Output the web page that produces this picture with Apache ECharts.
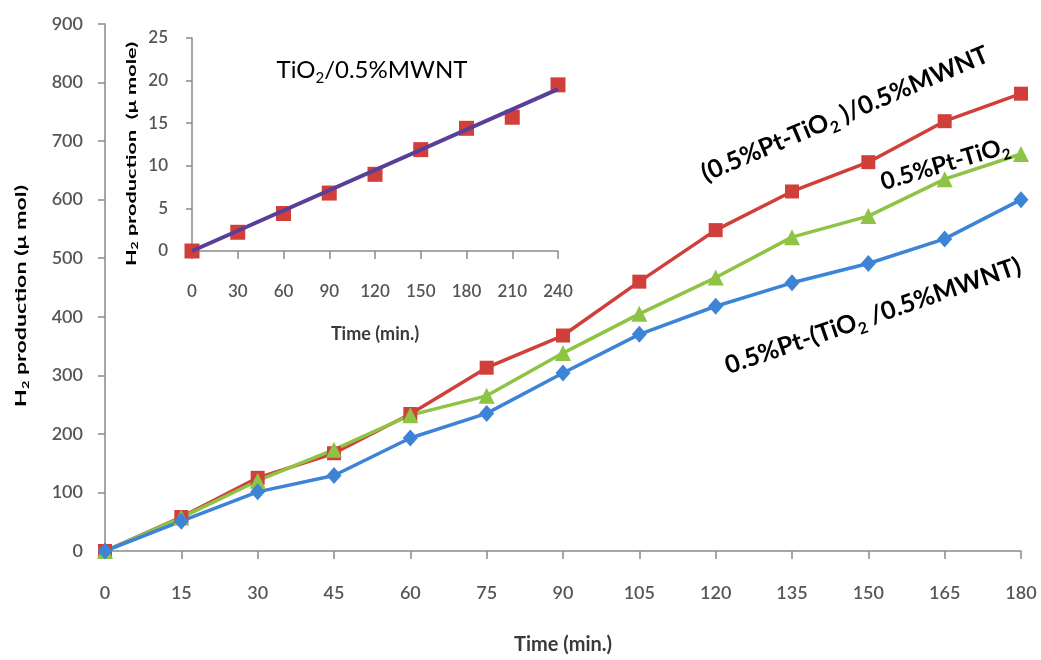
<!DOCTYPE html>
<html><head><meta charset="utf-8">
<script src="https://cdn.jsdelivr.net/npm/echarts@6/dist/echarts.min.js"></script>
<style>html,body{margin:0;padding:0;background:#fff}#c{width:1041px;height:660px}</style>
</head><body><div id="c"></div>
<script>
// Main chart data
const timeMain = [0, 15, 30, 45, 60, 75, 90, 105, 120, 135, 150, 165, 180];
const redPtTiO2_MWNT = [0, 58, 125, 167, 234, 313, 368, 460, 548, 614, 664, 734, 781];
const greenPtTiO2 = [0, 57, 120, 173, 232, 265, 338, 405, 467, 536, 572, 635, 678];
const bluePt_TiO2MWNT = [0, 51, 101, 129, 193, 235, 304, 370, 418, 458, 491, 533, 600];
// Inset data
const timeInset = [0, 30, 60, 90, 120, 150, 180, 210, 240];
const insetTiO2MWNT = [0, 2.2, 4.4, 6.8, 9.0, 11.9, 14.4, 15.7, 19.5];
const trendTime = [0, 240];
const trendValues = [0, 19.0];

const AX = '#8a8a8a', LBL = '#555555', TTL = '#3a3a3a';
const RED = '#D13F3B', GREEN = '#8EC346', BLUE = '#3D84D6', PURPLE = '#5A3F97';

function pairs(xs, ys) { return xs.map((x, i) => [x, ys[i]]); }

function titleRich(size) {
  return {
    b: { fontFamily: 'Lato', fontWeight: 'bold', fontSize: size, color: TTL, lineHeight: size + 4 },
    s: { fontFamily: 'Lato', fontWeight: 'bold', fontSize: Math.round(size * 0.62), color: TTL, verticalAlign: 'bottom', lineHeight: Math.round(size * 0.55) }
  };
}
function annRich(size, weight) {
  return {
    a: { fontFamily: 'Lato', fontWeight: weight, fontSize: size, color: '#000', lineHeight: size + 8 },
    s: { fontFamily: 'Lato', fontWeight: weight, fontSize: Math.round(size * 0.62), color: '#000', verticalAlign: 'bottom', lineHeight: Math.round(size * 0.55) }
  };
}
const labelStyle = (size) => ({ color: LBL, fontFamily: 'Lato', fontWeight: 600, fontSize: size });

const chart = echarts.init(document.getElementById('c'), null, { renderer: 'canvas' });
chart.setOption({
  animation: false,
  backgroundColor: '#fff',
  grid: [
    { left: 105, right: 20, top: 24, bottom: 98 },
    { left: 192, top: 38, width: 366, height: 213 }
  ],
  xAxis: [
    {
      type: 'value', gridIndex: 0, min: 0, max: 180, interval: 15,
      axisLine: { lineStyle: { color: AX, width: 1.5 } },
      axisTick: { show: true, length: 8, lineStyle: { color: AX, width: 1.5 } },
      axisLabel: Object.assign(labelStyle(18), { margin: 33 }),
      splitLine: { show: false },
      name: '{b|Time (min.)}', nameLocation: 'middle', nameGap: 82,
      nameTextStyle: { rich: titleRich(20) }
    },
    {
      type: 'value', gridIndex: 1, min: 0, max: 240, interval: 30,
      axisLine: { lineStyle: { color: AX, width: 1.5 } },
      axisTick: { show: true, length: 8, lineStyle: { color: AX, width: 1.5 } },
      axisLabel: Object.assign(labelStyle(17), { margin: 32 }),
      splitLine: { show: false },
      name: '{b|Time (min.)}', nameLocation: 'middle', nameGap: 72,
      nameTextStyle: { rich: titleRich(18) }
    }
  ],
  yAxis: [
    {
      type: 'value', gridIndex: 0, min: 0, max: 900, interval: 100,
      axisLine: { show: true, lineStyle: { color: AX, width: 1.5 } },
      axisTick: { show: true, length: 7, lineStyle: { color: AX, width: 1.5 } },
      axisLabel: Object.assign(labelStyle(18), { margin: 22 }),
      splitLine: { show: false }
    },
    {
      type: 'value', gridIndex: 1, min: 0, max: 25, interval: 5,
      axisLine: { show: true, lineStyle: { color: AX, width: 1.5 } },
      axisTick: { show: true, length: 6, lineStyle: { color: AX, width: 1.5 } },
      axisLabel: Object.assign(labelStyle(17), { margin: 24 }),
      splitLine: { show: false }
    }
  ],
  series: [
    {
      name: '(0.5%Pt-TiO2)/0.5%MWNT', type: 'line', xAxisIndex: 0, yAxisIndex: 0,
      data: pairs(timeMain, redPtTiO2_MWNT), symbol: 'rect', symbolSize: 14,
      lineStyle: { color: RED, width: 3.5 }, itemStyle: { color: RED }
    },
    {
      name: '0.5%Pt-TiO2', type: 'line', xAxisIndex: 0, yAxisIndex: 0,
      data: pairs(timeMain, greenPtTiO2), symbol: 'triangle', symbolSize: 16,
      lineStyle: { color: GREEN, width: 3.5 }, itemStyle: { color: GREEN }
    },
    {
      name: '0.5%Pt-(TiO2/0.5%MWNT)', type: 'line', xAxisIndex: 0, yAxisIndex: 0,
      data: pairs(timeMain, bluePt_TiO2MWNT), symbol: 'diamond', symbolSize: [15, 17],
      lineStyle: { color: BLUE, width: 3.5 }, itemStyle: { color: BLUE }
    },
    {
      name: 'TiO2/0.5%MWNT', type: 'scatter', xAxisIndex: 1, yAxisIndex: 1,
      data: pairs(timeInset, insetTiO2MWNT), symbol: 'rect', symbolSize: 15,
      itemStyle: { color: RED, opacity: 1 }, z: 3
    },
    {
      name: 'trend', type: 'line', xAxisIndex: 1, yAxisIndex: 1,
      data: pairs(trendTime, trendValues), symbol: 'none',
      lineStyle: { color: PURPLE, width: 4 }, z: 4
    }
  ],
  graphic: [
    {
      type: 'text', x: 21, y: 296, rotation: Math.PI / 2, scaleX: 1.45, z: 10,
      style: { text: '{b|H}{s|2}{b| production (μ mol)}', rich: titleRich(16), align: 'center', verticalAlign: 'middle' }
    },
    {
      type: 'text', x: 131, y: 154, rotation: Math.PI / 2, scaleX: 1.55, z: 10,
      style: { text: '{b|H}{s|2}{b| production  (μ mole)}', rich: titleRich(14), align: 'center', verticalAlign: 'middle' }
    },
    {
      type: 'text', x: 372, y: 70, z: 10,
      style: { text: '{a|TiO}{s|2}{a|/0.5%MWNT}', rich: annRich(24, 'normal'), align: 'center', verticalAlign: 'middle' }
    },
    {
      type: 'text', x: 845, y: 114, rotation: 23 * Math.PI / 180, z: 10,
      style: { text: '{a|(0.5%Pt-TiO}{s|2}{a| )/0.5%MWNT}', rich: annRich(25, 'bold'), align: 'center', verticalAlign: 'middle' }
    },
    {
      type: 'text', x: 945, y: 164, rotation: 16.5 * Math.PI / 180, z: 10,
      style: { text: '{a|0.5%Pt-TiO}{s|2}', rich: annRich(24, 'bold'), align: 'center', verticalAlign: 'middle' }
    },
    {
      type: 'text', x: 873, y: 316, rotation: 19 * Math.PI / 180, z: 10,
      style: { text: '{a|0.5%Pt-(TiO}{s|2}{a| /0.5%MWNT)}', rich: annRich(25, 'bold'), align: 'center', verticalAlign: 'middle' }
    }
  ]
});
</script>
</body></html>
